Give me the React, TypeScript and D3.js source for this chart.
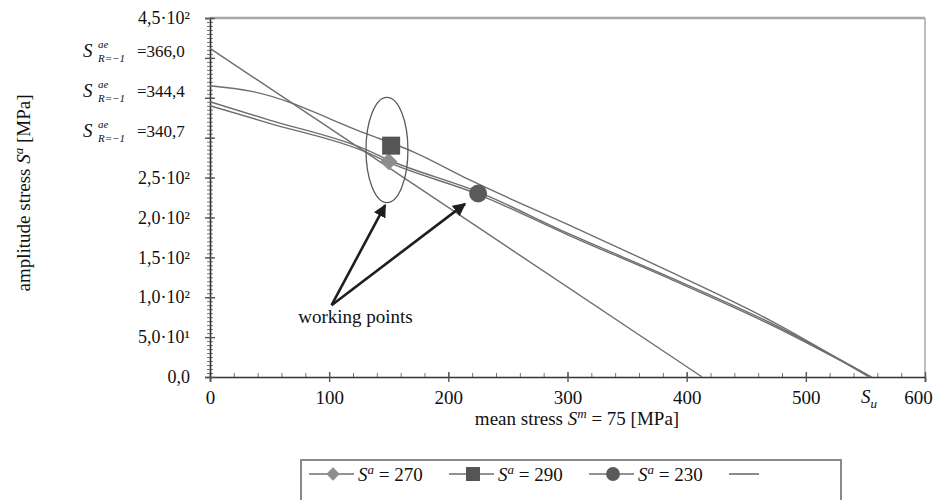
import React, { useEffect, useRef } from "react";
import * as d3 from "d3";

// axis ticks
const xTicks = [0, 100, 200, 300, 400, 500, 600];
const yTicks = [0, 50, 100, 150, 200, 250, 450];
const yTickLabels = ["0,0", "5,0·10¹", "1,0·10²", "1,5·10²", "2,0·10²", "2,5·10²", "4,5·10²"];
// tick positions taken by the S^ae annotations
const annotTicks = [400, 350, 300];
const annotValues = ["366,0", "344,4", "340,7"];
const ultimateStress = 553;

// limit lines [mean stress, amplitude stress]
const lineSteep = [[0, 412], [413, 0]];
const line290 = [[0, 365], [35, 358], [131, 305], [171, 282], [218, 247], [302, 190], [386, 132], [470, 71], [553, 0]];
const line270 = [[0, 345], [50, 322], [131, 285], [150, 272], [225, 232], [302, 179], [386, 125], [470, 68], [555, 0]];
const line230 = [[0, 340], [50, 318], [131, 282], [150, 269], [225, 229], [302, 177], [386, 123], [470, 66], [555, 0]];

// working points
const wpLabels = ["270", "290", "230"];
const wpMean = [150, 152, 225];
const wpAmp = [270, 290, 230];
const wpShapes = ["diamond", "square", "circle"];
const wpColors = ["#8e8e8e", "#555555", "#5a5a5a"];

const FONT = "'Liberation Serif', Tinos, 'Noto Serif', 'DejaVu Serif', 'Times New Roman', Times, serif";
const LINE_COLOR = "#6e6e6e";

const x = d3.scaleLinear().domain([0, 600]).range([210, 925]);
const y = d3.scaleLinear().domain([0, 450]).range([377, 18]);

function symbolPath(shape: string, big: boolean) {
  if (shape === "circle") return d3.symbol(d3.symbolCircle, big ? 254 : 150)();
  if (shape === "square") return d3.symbol(d3.symbolSquare, big ? 324 : 196)();
  return d3.symbol(d3.symbolSquare, big ? 150 : 90)();
}

function Marker({ shape, color, cx, cy, big }: any) {
  return (
    <path
      d={symbolPath(shape, big) || ""}
      fill={color}
      transform={`translate(${cx},${cy})${shape === "diamond" ? " rotate(45)" : ""}`}
    />
  );
}

function App() {
  const xAxisRef = useRef<SVGGElement>(null);
  const yAxisRef = useRef<SVGGElement>(null);
  const xMinorRef = useRef<SVGGElement>(null);
  const yMinorRef = useRef<SVGGElement>(null);

  useEffect(() => {
    const xAxis = d3.axisBottom(x).tickValues(xTicks).tickSize(5).tickPadding(9).tickFormat(d3.format("d"));
    const gx = d3.select(xAxisRef.current!);
    gx.selectAll("*").remove();
    gx.call(xAxis as any);
    gx.attr("font-family", FONT).attr("font-size", 19);
    gx.select(".domain").attr("stroke", "#333").attr("stroke-width", 1.6);
    gx.selectAll(".tick line").attr("y1", -5).attr("stroke", "#555").attr("stroke-width", 1.4);
    gx.selectAll(".tick text")
      .attr("fill", "#111")
      .attr("dx", (d: any) => (d === 600 ? -7 : 0));

    const lab: any = {};
    yTicks.forEach((t, i) => (lab[t] = yTickLabels[i]));
    const allMajor = yTicks.concat(annotTicks).sort((a, b) => a - b);
    const yAxis = d3.axisLeft(y).tickValues(allMajor).tickSize(5).tickPadding(15)
      .tickFormat((d: any) => lab[d] || "");
    const gy = d3.select(yAxisRef.current!);
    gy.selectAll("*").remove();
    gy.call(yAxis as any);
    gy.attr("font-family", FONT).attr("font-size", 18);
    gy.select(".domain").attr("stroke", "#333").attr("stroke-width", 1.6);
    gy.selectAll(".tick line").attr("x1", 5).attr("stroke", "#555").attr("stroke-width", 1.4);
    gy.selectAll(".tick text").attr("fill", "#111");

    const xMinor = d3.axisBottom(x).tickValues(d3.range(0, 601, 20)).tickSize(-4).tickFormat(() => "");
    const gxm = d3.select(xMinorRef.current!);
    gxm.selectAll("*").remove();
    gxm.call(xMinor as any);
    gxm.select(".domain").remove();
    gxm.selectAll(".tick line").attr("stroke", "#777").attr("stroke-width", 1);

    const yMinor = d3.axisLeft(y).tickValues(d3.range(0, 451, 5)).tickSize(3).tickFormat(() => "");
    const gym = d3.select(yMinorRef.current!);
    gym.selectAll("*").remove();
    gym.call(yMinor as any);
    gym.select(".domain").remove();
    gym.selectAll(".tick line").attr("x1", 3).attr("stroke", "#777").attr("stroke-width", 1);
  }, []);

  const line = d3.line<number[]>().x((d) => x(d[0])).y((d) => y(d[1])).curve(d3.curveMonotoneX);

  // annotation geometry (data units)
  const ellipse = { cx: 148.5, cy: 284.5, rx: 17.6, ry: 66 };
  const arrowFrom = [102, 90];
  const arrowTo = [[147, 215.5], [214, 217]];

  const legendX0 = 309;
  const legendStep = 140;

  return (
    <svg width={940} height={500} style={{ position: "absolute", left: 0, top: 0, background: "#fff" }}>
      <defs>
        <marker id="arrowHead" viewBox="0 0 10 10" refX="9" refY="5" markerWidth="5" markerHeight="5" orient="auto">
          <path d="M0,0 L10,5 L0,10 z" fill="#1e1e1e" />
        </marker>
      </defs>

      {/* frame: grey top and right */}
      <line x1={x(0)} x2={x(600)} y1={y(450)} y2={y(450)} stroke="#a8a8a8" strokeWidth={2.5} />
      <line x1={x(600)} x2={x(600)} y1={y(450)} y2={y(0)} stroke="#a8a8a8" strokeWidth={1.5} />

      <g ref={xMinorRef} transform={`translate(0,${y(0)})`} />
      <g ref={yMinorRef} transform={`translate(${x(0)},0)`} />
      <g ref={xAxisRef} transform={`translate(0,${y(0)})`} />
      <g ref={yAxisRef} transform={`translate(${x(0)},0)`} />

      {/* S_u label */}
      <text x={x(ultimateStress)} y={403} fontFamily={FONT} fontSize={19} textAnchor="middle" fill="#111">
        <tspan fontStyle="italic">S</tspan>
        <tspan fontStyle="italic" fontSize={13} dy={5}>u</tspan>
      </text>

      {/* S^ae annotations */}
      {annotTicks.map((t, i) => {
        const b = y(t) - 1;
        return (
          <g key={t} fontFamily={FONT} fill="#111">
            <text x={83} y={b} fontSize={19} fontStyle="italic">S</text>
            <text x={98} y={b - 9} fontSize={11} fontStyle="italic">ae</text>
            <text x={98} y={b + 5} fontSize={11} fontStyle="italic">R=−1</text>
            <text x={137} y={b} fontSize={17}>={annotValues[i]}</text>
          </g>
        );
      })}

      {/* limit lines */}
      {[lineSteep, line290, line270, line230].map((l, i) => (
        <path key={i} d={line(l) || ""} fill="none" stroke={LINE_COLOR} strokeWidth={1.4} />
      ))}

      {/* ellipse around working points */}
      <ellipse
        cx={x(ellipse.cx)}
        cy={y(ellipse.cy)}
        rx={x(ellipse.rx) - x(0)}
        ry={y(0) - y(ellipse.ry)}
        fill="none"
        stroke="#5a5a5a"
        strokeWidth={1.3}
      />

      {/* working point markers */}
      {wpMean.map((m, i) => (
        <Marker key={i} shape={wpShapes[i]} color={wpColors[i]} cx={x(m)} cy={y(wpAmp[i])} big />
      ))}

      {/* arrows */}
      {arrowTo.map((p, i) => (
        <line
          key={i}
          x1={x(arrowFrom[0])}
          y1={y(arrowFrom[1])}
          x2={x(p[0])}
          y2={y(p[1])}
          stroke="#1e1e1e"
          strokeWidth={2.6}
          markerEnd="url(#arrowHead)"
        />
      ))}
      <text x={x(74)} y={y(67.7)} fontFamily={FONT} fontSize={19} fill="#111">working points</text>

      {/* axis titles */}
      <text x={577} y={425} fontFamily={FONT} fontSize={19} textAnchor="middle" fill="#111">
        mean stress <tspan fontStyle="italic">S</tspan>
        <tspan fontStyle="italic" fontSize={13} dy={-7}>m</tspan>
        <tspan dy={7}> = 75 [MPa]</tspan>
      </text>
      <text transform="translate(30,193) rotate(-90)" fontFamily={FONT} fontSize={19} textAnchor="middle" fill="#111">
        amplitude stress <tspan fontStyle="italic">S</tspan>
        <tspan fontStyle="italic" fontSize={13} dy={-7}>a</tspan>
        <tspan dy={7}> [MPa]</tspan>
      </text>

      {/* legend */}
      <rect x={301} y={460} width={540} height={44} fill="#fff" stroke="#8a8a8a" strokeWidth={2} />
      {wpLabels.concat([""]).map((lb, i) => {
        const lx = legendX0 + i * legendStep;
        const cy = 474;
        return (
          <g key={i}>
            <line x1={lx} x2={lx + (i < 3 ? 45 : 30)} y1={cy} y2={cy} stroke={LINE_COLOR} strokeWidth={1.6} />
            {i < 3 && <Marker shape={wpShapes[i]} color={wpColors[i]} cx={lx + 24} cy={cy} big={false} />}
            {i < 3 && (
              <text x={lx + 49} y={cy + 7} fontFamily={FONT} fontSize={19} fill="#111">
                <tspan fontStyle="italic">S</tspan>
                <tspan fontStyle="italic" fontSize={13} dy={-7}>a</tspan>
                <tspan dy={7}> = {lb}</tspan>
              </text>
            )}
          </g>
        );
      })}
    </svg>
  );
}

export default App;
